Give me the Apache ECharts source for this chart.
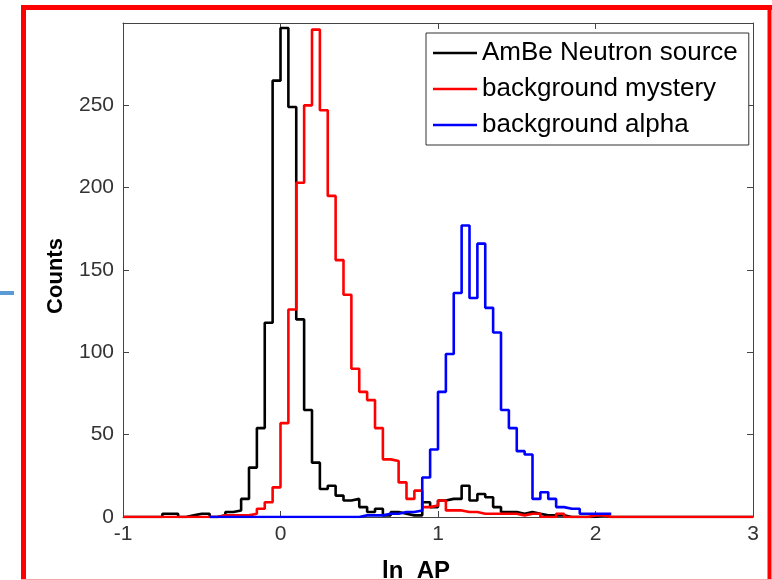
<!DOCTYPE html>
<html>
<head>
<meta charset="utf-8">
<script src="https://cdn.jsdelivr.net/npm/echarts@6/dist/echarts.min.js"></script>
<style>
html,body{margin:0;padding:0;background:#fff;}
#chart{width:772px;height:580px;}
</style>
</head>
<body>
<div id="chart"></div>
<script>
// Histogram bins: left edges start at binStart, width binWidth
const binStart = -1;
const binWidth = 0.05;
const seriesNames = ['AmBe Neutron source', 'background mystery', 'background alpha'];
const xTicks = [-1, 0, 1, 2, 3];
const yTicks = [0, 50, 100, 150, 200, 250];

// AmBe Neutron source (bins -1.00 ... 2.95)
const blackCounts = [
  0,0,0,0,0,2,2,0,1,2,2,0,1,3,4,11,30,54,118,265,
  297,249,120,65,33,17,19,13,10,11,6,3,5,1,3,2,1,1,9,6,
  10,11,11,19,10,14,12,6,3,3,2,3,2,1,1,1,0,0,0,0,
  1,0,0,0,0,0,0,0,0,0,0,0,0,0,0,0,0,0,0,0
];
// background mystery (bins -1.00 ... 2.95)
const redCounts = [
  0,0,0,0,0,0,0,0,0,0,0,0,1,1,1,1,2,5,9,18,
  57,126,203,250,296,247,195,156,135,90,76,71,54,35,34,21,11,16,6,7,
  10,4,4,3,3,2,2,2,2,2,1,2,2,0,0,2,0,0,0,1,
  1,0,0,0,0,0,0,0,0,0,0,0,0,0,0,0,0,0,0,0
];
// background alpha (bins -0.45 ... 2.05)
const blueStart = -0.45;
const blueCounts = [
  0,0,0,0,0,0,0,0,0,0,0,0,0,0,0,0,0,0,0,
  1,1,1,2,2,3,3,4,
  24,41,76,99,136,177,133,166,127,112,65,54,40,38,11,15,11,6,5,5,2,2,2,2
];

function toSteps(start, counts) {
  const pts = counts.map((c, i) => [+(start + i * binWidth).toFixed(3), c]);
  pts.push([+(start + counts.length * binWidth).toFixed(3), counts[counts.length - 1]]);
  return pts;
}

const chart = echarts.init(document.getElementById('chart'), null, {renderer: 'canvas'});
const FONT = 'Liberation Sans, Arial, Helvetica, sans-serif';
const axisColor = '#444';
const baseX = {
  type: 'value', min: xTicks[0], max: xTicks[xTicks.length - 1], interval: 1,
  splitLine: {show: false},
  axisLine: {show: true, onZero: false, lineStyle: {color: axisColor, width: 1}},
  axisTick: {show: true, inside: true, length: 6, lineStyle: {color: axisColor}}
};
const baseY = {
  type: 'value', min: 0, max: 300, interval: 50,
  splitLine: {show: false},
  axisLine: {show: true, onZero: false, lineStyle: {color: axisColor, width: 1}},
  axisTick: {show: true, inside: true, length: 6, lineStyle: {color: axisColor}}
};

const colors = ['#000000', '#ff0000', '#0000ff'];
const datasets = [toSteps(binStart, blackCounts), toSteps(binStart, redCounts), toSteps(blueStart, blueCounts)];

chart.setOption({
  animation: false,
  backgroundColor: '#ffffff',
  grid: {left: 123, top: 23, width: 630, height: 494, containLabel: false},
  xAxis: [
    Object.assign({}, baseX, {position: 'bottom',
      axisLabel: {show: true, margin: 7, fontSize: 21, fontFamily: FONT, color: '#333'}}),
    Object.assign({}, baseX, {position: 'top', axisLabel: {show: false}})
  ],
  yAxis: [
    Object.assign({}, baseY, {position: 'left',
      axisLabel: {show: true, margin: 9, fontSize: 21, fontFamily: FONT, color: '#333',
        formatter: v => (yTicks.indexOf(v) >= 0 ? String(v) : '')}}),
    Object.assign({}, baseY, {position: 'right', axisLabel: {show: false}})
  ],
  legend: {
    data: seriesNames,
    orient: 'vertical', left: 426, top: 33,
    icon: 'rect', itemWidth: 44, itemHeight: 2.5, itemGap: 10,
    padding: [7, 11, 7, 7],
    borderColor: '#333', borderWidth: 1, backgroundColor: '#fff',
    selectedMode: false,
    textStyle: {fontSize: 26, fontFamily: FONT, color: '#000'}
  },
  series: seriesNames.map((n, k) => ({
    type: 'line', name: n, step: 'end', data: datasets[k],
    symbol: 'none', showSymbol: false,
    xAxisIndex: 0, yAxisIndex: 0,
    color: colors[k],
    itemStyle: {color: colors[k]},
    lineStyle: {color: colors[k], width: 2.6}
  })),
  graphic: [
    {type: 'line', shape: {x1: 23.5, y1: 5, x2: 23.5, y2: 580}, style: {stroke: '#ff0000', lineWidth: 5}},
    {type: 'line', shape: {x1: 21, y1: 7.5, x2: 772, y2: 7.5}, style: {stroke: '#ff0000', lineWidth: 5}},
    {type: 'line', shape: {x1: 769.5, y1: 5, x2: 769.5, y2: 580}, style: {stroke: '#ff0000', lineWidth: 4}},
    {type: 'line', shape: {x1: 21, y1: 579.5, x2: 772, y2: 579.5}, style: {stroke: '#f4a6a6', lineWidth: 1}},
    {type: 'rect', shape: {x: 0, y: 291, width: 14, height: 4}, style: {fill: '#5b9bd5'}},
    {type: 'text', x: 56, y: 276, rotation: Math.PI / 2,
      style: {text: 'Counts', font: 'bold 22px ' + FONT, fill: '#000', align: 'center', verticalAlign: 'middle'}},
    {type: 'text', x: 382, y: 571,
      style: {text: 'ln  AP', font: 'bold 24px ' + FONT, fill: '#000', align: 'left', verticalAlign: 'middle'}}
  ]
});
</script>
</body>
</html>
